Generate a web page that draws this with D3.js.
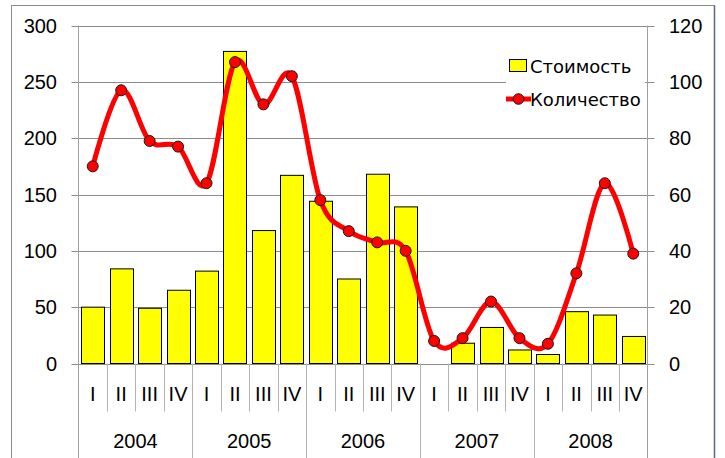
<!DOCTYPE html>
<html><head><meta charset="utf-8">
<script src="https://cdn.jsdelivr.net/npm/d3@7"></script>
<style>
html,body{margin:0;padding:0;background:#fff;}
svg{display:block;}
</style>
</head><body>
<svg id="chart" width="725" height="458"></svg>
<script>
const years = ["2004","2005","2006","2007","2008"];
const quarters = ["I","II","III","IV"];
const cost = [50,84,49,65, 82,277,118,167, 144,75,168,139, 0,18,32,12, 8,46,43,24];
const quantity = [70,97,79,77, 64,107,92,102, 58,47,43,40, 8,9,22,9, 7,32,64,39];
const leftTicks = [0,50,100,150,200,250,300];
const rightTicks = [0,20,40,60,80,100,120];
const seriesNames = ["Стоимость","Количество"];

const svg = d3.select("#chart");
const X0 = 78.5, X1 = 647.5, Y0 = 363.5, Y1 = 25.5;
const axisFont = "'Liberation Sans', Arial, sans-serif";

const labels = [];
years.forEach(y => quarters.forEach(q => labels.push({y, q})));
const idx = d3.range(labels.length);

const x = d3.scaleBand().domain(idx).range([X0, X1]).paddingInner(0.19).paddingOuter(0.095);
const step = x.step();
const yL = d3.scaleLinear().domain([0,300]).range([Y0, Y1]);
const yR = d3.scaleLinear().domain([0,120]).range([Y0, Y1]);

// outer border
svg.append("rect").attr("x",11.5).attr("y",5.5).attr("width",703).attr("height",470)
  .attr("fill","#fff").attr("stroke","#8c8c8c").attr("stroke-width",1);
svg.append("line").attr("x1",714.5).attr("x2",714.5).attr("y1",5.5).attr("y2",458)
  .attr("stroke","#5b6683").attr("stroke-width",1.5);

// gridlines + left ticks
svg.append("g").selectAll("line").data(leftTicks).join("line")
  .attr("x1", 71.5).attr("x2", X1)
  .attr("y1", d => Math.round(yL(d))+0.5).attr("y2", d => Math.round(yL(d))+0.5)
  .attr("stroke", "#8c8c8c").attr("stroke-width", 1);
// right ticks
svg.append("g").selectAll("line").data(rightTicks).join("line")
  .attr("x1", X1).attr("x2", 654.5)
  .attr("y1", d => Math.round(yR(d))+0.5).attr("y2", d => Math.round(yR(d))+0.5)
  .attr("stroke", "#8c8c8c").attr("stroke-width", 1);

// axis vertical lines
svg.append("line").attr("x1",X0).attr("x2",X0).attr("y1",Y1).attr("y2",460).attr("stroke","#a0a0a0");
svg.append("line").attr("x1",X1).attr("x2",X1).attr("y1",Y1).attr("y2",460).attr("stroke","#a0a0a0");

// category separators
const qSep = d3.range(1, labels.length).filter(i => i % 4 !== 0);
const ySep = d3.range(4, labels.length, 4);
svg.append("g").selectAll("line").data(qSep).join("line")
  .attr("x1", i => Math.round(X0 + i*step)+0.5).attr("x2", i => Math.round(X0 + i*step)+0.5)
  .attr("y1", Y0).attr("y2", 411.5).attr("stroke","#b4b4b4");
svg.append("g").selectAll("line").data(ySep).join("line")
  .attr("x1", i => Math.round(X0 + i*step)+0.5).attr("x2", i => Math.round(X0 + i*step)+0.5)
  .attr("y1", Y0).attr("y2", 460).attr("stroke","#b4b4b4");

// left tick labels
svg.append("g").selectAll("text").data(leftTicks).join("text")
  .attr("x", 57).attr("y", d => yL(d)).attr("dy","0.35em")
  .attr("text-anchor","end").attr("font-family",axisFont).attr("font-size",20).attr("fill","#000")
  .text(d => d);
// right tick labels
svg.append("g").selectAll("text").data(rightTicks).join("text")
  .attr("x", 669).attr("y", d => yR(d)).attr("dy","0.35em")
  .attr("text-anchor","start").attr("font-family",axisFont).attr("font-size",20).attr("fill","#000")
  .text(d => d);
// quarter labels
svg.append("g").selectAll("text").data(idx).join("text")
  .attr("x", i => x(i) + x.bandwidth()/2).attr("y", 393.5).attr("dy","0.35em")
  .attr("text-anchor","middle").attr("font-family",axisFont).attr("font-size",20).attr("fill","#000")
  .text(i => labels[i].q);
// year labels
svg.append("g").selectAll("text").data(years).join("text")
  .attr("x", (d,k) => X0 + (k*4 + 2)*step).attr("y", 441).attr("dy","0.35em")
  .attr("text-anchor","middle").attr("font-family",axisFont).attr("font-size",20).attr("fill","#000")
  .text(d => d);

// bars
svg.append("g").selectAll("rect").data(idx.filter(i => cost[i] > 0)).join("rect")
  .attr("x", i => Math.round(x(i))+0.5).attr("width", Math.round(x.bandwidth()))
  .attr("y", i => yL(cost[i])).attr("height", i => Y0 - yL(cost[i]))
  .attr("fill","#ffff00").attr("stroke","#000").attr("stroke-width",1);

// line
const line = d3.line().x(i => x(i) + x.bandwidth()/2).y(i => yR(quantity[i])).curve(d3.curveCatmullRom.alpha(0));
svg.append("path").datum(idx).attr("d", line)
  .attr("fill","none").attr("stroke","#ff0000").attr("stroke-width",5).attr("stroke-linejoin","round");
svg.append("g").selectAll("circle").data(idx).join("circle")
  .attr("cx", i => x(i) + x.bandwidth()/2).attr("cy", i => yR(quantity[i])).attr("r",5.5)
  .attr("fill","#ff0000").attr("stroke","#1a1a1a").attr("stroke-width",1);

// legend
const lg = svg.append("g");
lg.append("rect").attr("x",506).attr("y",46).attr("width",139).attr("height",72).attr("fill","#fff");
lg.append("rect").attr("x",509.5).attr("y",59.5).attr("width",17).attr("height",12)
  .attr("fill","#ffff00").attr("stroke","#000").attr("stroke-width",1);
lg.append("text").attr("x",530).attr("y",72.5).attr("font-family","'DejaVu Sans', sans-serif")
  .attr("font-size",18).attr("fill","#000").text(seriesNames[0]);
lg.append("line").attr("x1",506).attr("x2",531).attr("y1",99).attr("y2",99)
  .attr("stroke","#ff0000").attr("stroke-width",5);
lg.append("circle").attr("cx",518.5).attr("cy",99).attr("r",5.3)
  .attr("fill","#ff0000").attr("stroke","#1a1a1a").attr("stroke-width",1);
lg.append("text").attr("x",530).attr("y",105.5).attr("font-family","'DejaVu Sans', sans-serif")
  .attr("font-size",18).attr("fill","#000").text(seriesNames[1]);
</script>
</body></html>
